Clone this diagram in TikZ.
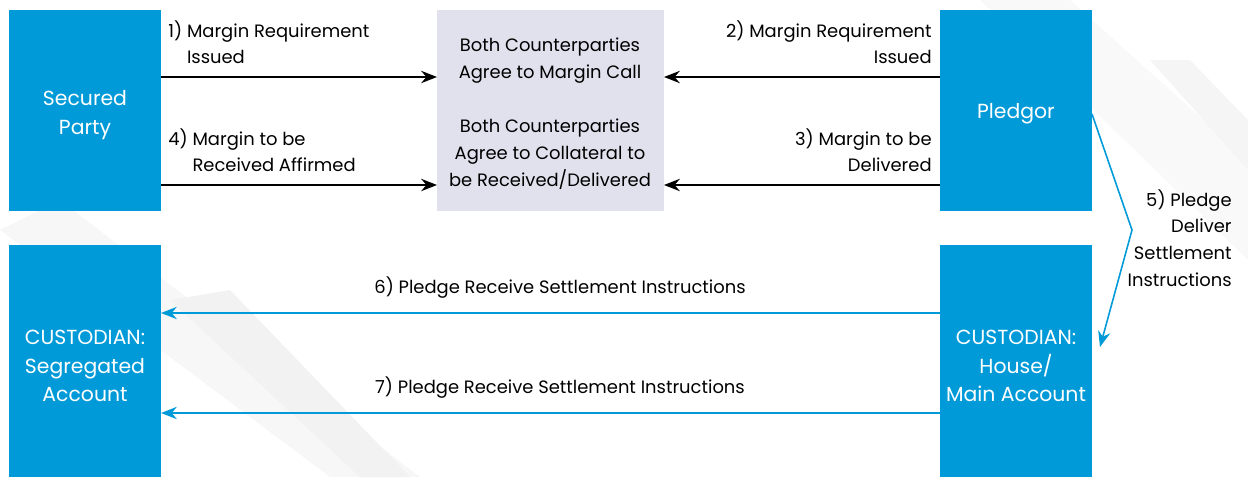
\documentclass[tikz,border=0pt]{standalone}
\usepackage{fontspec}
\setmainfont{Poppins}
\usetikzlibrary{arrows.meta}
\definecolor{boxblue}{HTML}{009AD8}
\definecolor{lav}{HTML}{E1E1EE}
\begin{document}
\begin{tikzpicture}[x=0.02cm,y=-0.02cm,
  bluebox/.style={fill=boxblue,draw=none},
  boxtxt/.style={text=white,align=center,inner sep=0pt,font=\fontsize{11.6}{16.4}\selectfont},
  lbl/.style={font=\fontsize{10.2}{15.3}\selectfont,inner sep=0pt},
  blk/.style={draw=black,line width=1.1pt,-{Stealth[length=9pt,width=7pt]}},
  blu/.style={draw=boxblue,line width=0.9pt,-{Stealth[length=9pt,width=7pt]}}]
\useasboundingbox (0,0) rectangle (1248,477);
% background streaks
\fill[black!3] (0,230) -- (60,200) -- (420,477) -- (330,477) -- cycle;
\fill[black!5] (170,300) -- (230,290) -- (410,477) -- (360,477) -- cycle;
\fill[black!2.5] (980,0) -- (1070,0) -- (1248,160) -- (1248,260) -- cycle;
\fill[black!4] (1150,60) -- (1190,60) -- (1248,120) -- (1248,170) -- cycle;
% boxes
\path[bluebox] (9,10) rectangle (161,211);
\node[boxtxt] (sp) at (85,115) {Secured\\Party};
\path[bluebox] (940,10) rectangle (1092,211);
\node[boxtxt] (pl) at (1016,114) {Pledgor};
\path[bluebox] (9,245) rectangle (161,477);
\node[boxtxt] (cs) at (85,366) {CUSTODIAN:\\Segregated\\Account};
\path[bluebox] (940,245) rectangle (1092,477);
\node[boxtxt] (ch) at (1016,366) {CUSTODIAN:\\House/\\Main Account};
\fill[lav] (437,10) rectangle (664,211);
\node[lbl,align=center] (c1) at (550,61) {Both Counterparties\\Agree to Margin Call};
\node[lbl,align=center] (c2) at (550,154) {Both Counterparties\\Agree to Collateral to\\be Received/Delivered};
% anchors
\coordinate (a1s) at (161,77); \coordinate (a1e) at (437,77);
\coordinate (a4s) at (161,185); \coordinate (a4e) at (437,185);
\coordinate (a2s) at (940,77); \coordinate (a2e) at (664,77);
\coordinate (a3s) at (940,185); \coordinate (a3e) at (664,185);
\coordinate (a6s) at (940,313); \coordinate (a6e) at (161,313);
\coordinate (a7s) at (940,413); \coordinate (a7e) at (161,413);
\coordinate (a5s) at (1092,114); \coordinate (a5k) at (1132,230); \coordinate (a5e) at (1100,347);
\draw[blk] (a1s) -- (a1e);
\draw[blk] (a4s) -- (a4e);
\draw[blk] (a2s) -- (a2e);
\draw[blk] (a3s) -- (a3e);
\draw[blu] (a6s) -- (a6e);
\draw[blu] (a7s) -- (a7e);
\draw[blu] (a5s) -- (a5k) -- (a5e);
% labels
\node[lbl,align=left,anchor=north west] (l1) at (168,20) {1)~Margin Requirement\\\phantom{1)~}Issued};
\node[lbl,align=left,anchor=north west] (l4) at (168,128) {4)~Margin to be\\\phantom{4)~}Received Affirmed};
\node[lbl,align=right,anchor=north east] (l2) at (932,20) {2)~Margin Requirement\\Issued};
\node[lbl,align=right,anchor=north east] (l3) at (932,128) {3)~Margin to be\\Delivered};
\node[lbl,anchor=center] (l6) at (560,288) {6)~Pledge Receive Settlement Instructions};
\node[lbl,anchor=center] (l7) at (560,388) {7)~Pledge Receive Settlement Instructions};
\node[lbl,align=right,anchor=north east] (l5) at (1232,189) {5)~Pledge\\Deliver\\Settlement\\Instructions};
\end{tikzpicture}
\end{document}
